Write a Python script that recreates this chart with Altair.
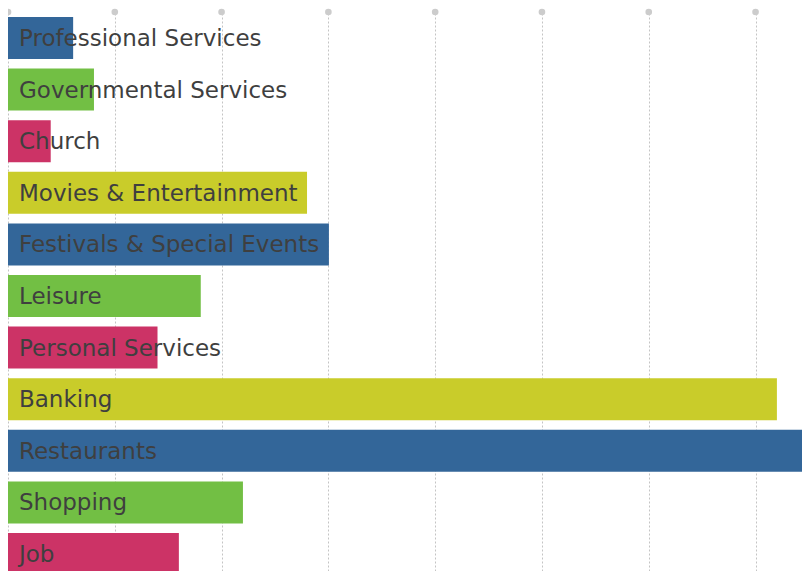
import altair as alt
import pandas as pd

categories = [
    "Professional Services",
    "Governmental Services",
    "Church",
    "Movies & Entertainment",
    "Festivals & Special Events",
    "Leisure",
    "Personal Services",
    "Banking",
    "Restaurants",
    "Shopping",
    "Job",
]
values = [6.1, 8.05, 4.0, 28.0, 30.05, 18.05, 14.0, 72.0, 80.0, 22.0, 16.0]
bar_colors = [
    "#336699", "#72bf44", "#cc3366", "#c9cc2a",
    "#336699", "#72bf44", "#cc3366", "#c9cc2a",
    "#336699", "#72bf44", "#cc3366",
]
grid_ticks = [0, 10, 20, 30, 40, 50, 60, 70]

df = pd.DataFrame({"category": categories, "value": values, "color": bar_colors})
ticks_df = pd.DataFrame({"tick": grid_ticks})

W, H = 794, 563

x_scale = alt.Scale(domain=[0, 74.35], nice=False, zero=False)
y_scale = alt.Scale(domain=categories, range=[0, 576], paddingInner=0.186, paddingOuter=0.174)

x_axis = alt.Axis(
    values=grid_ticks, grid=True, gridDash=[2, 2], gridColor="#c4c4c4", gridWidth=1,
    labels=False, ticks=False, domain=False, title=None,
)

dots = alt.Chart(ticks_df).mark_circle(size=44, color="#cccccc", opacity=1).encode(
    x=alt.X("tick:Q", scale=x_scale, axis=x_axis),
    y=alt.value(4),
)

bars = alt.Chart(df).mark_bar(clip=True).encode(
    x=alt.X("value:Q", scale=x_scale, axis=x_axis),
    y=alt.Y("category:N", scale=y_scale, sort=categories, axis=None),
    color=alt.Color("color:N", scale=None),
)

labels = alt.Chart(df).mark_text(
    align="left", baseline="middle", dx=11, dy=1, fontSize=23,
    font="DejaVu Sans", color="#3f3f3f", clip=True,
).encode(
    x=alt.datum(0),
    y=alt.Y("category:N", scale=y_scale, sort=categories, axis=None),
    text="category:N",
)

chart = alt.layer(dots, bars, labels).properties(
    width=W, height=H,
    autosize=alt.AutoSizeParams(type="none"),
    padding=0,
).configure_view(stroke=None)

chart.save("out.html", embed_options={"renderer": "svg", "actions": False})
